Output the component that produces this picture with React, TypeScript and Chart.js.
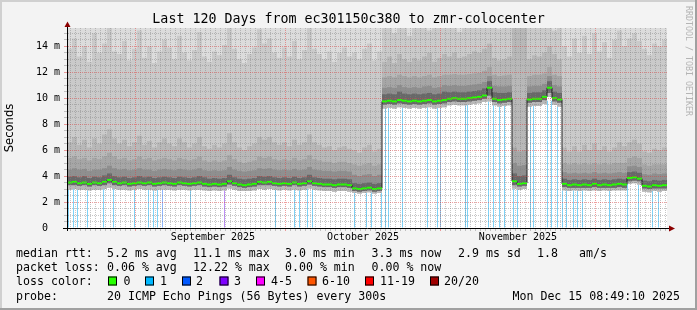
import { useEffect, useRef } from 'react';
import { Chart, registerables } from 'chart.js';

Chart.register(...registerables);

const MONO = "'DejaVu Sans Mono', monospace";
const SANS = "'DejaVu Sans', sans-serif";

const TITLE = 'Last 120 Days from ec301150c380 to zmr-colocenter';
const Y_TITLE = 'Seconds';
const WATERMARK = 'RRDTOOL / TOBI OETIKER';

// time axis in days relative to 2025-09-01 00:00, one bucket per day
const X_MIN = -14.2;
const X_MAX = 105.8;
const Y_MAX = 15.4;
const bucketStart = Array.from({ length: 120 }, (_, i) => X_MIN + i);

const monthLabels = ['September 2025', 'October 2025', 'November 2025'];
const monthLabelDays = [15, 45, 76];
const majorGridDays = [0, 30, 61, 92];
const yTickValues = [0, 0.5, 1, 1.5, 2, 2.5, 3, 3.5, 4, 4.5, 5, 5.5, 6, 6.5, 7, 7.5, 8, 8.5, 9, 9.5, 10, 10.5, 11, 11.5, 12, 12.5, 13, 13.5, 14, 14.5, 15];
const yMajorValues = [2, 4, 6, 8, 10, 12, 14];

// median rtt (ms) per day
const median = [
  3.50, 3.55, 3.45, 3.50, 3.40, 3.50, 3.45, 3.55, 3.70, 3.55,
  3.45, 3.50, 3.40, 3.45, 3.50, 3.45, 3.50, 3.40, 3.45, 3.50,
  3.45, 3.40, 3.50, 3.45, 3.40, 3.45, 3.50, 3.40, 3.35, 3.40,
  3.35, 3.40, 3.60, 3.45, 3.35, 3.30, 3.35, 3.40, 3.55, 3.50,
  3.55, 3.45, 3.40, 3.45, 3.40, 3.50, 3.40, 3.45, 3.60, 3.45,
  3.40, 3.35, 3.35, 3.30, 3.35, 3.35, 3.30,
  3.05, 3.00, 3.05, 3.10, 3.00, 3.05,
  9.75, 9.80, 9.75, 9.85, 9.80, 9.75, 9.80, 9.75, 9.80, 9.85, 9.75, 9.80, 9.85,
  9.95, 10.0, 9.95, 9.95, 10.0, 10.05, 10.1, 10.2, 10.8,
  9.95, 9.85, 9.90, 9.95,
  3.60, 3.40, 3.45,
  9.90, 9.95, 9.95, 10.10, 10.80, 10.00, 9.90,
  3.40, 3.30, 3.35, 3.30, 3.35, 3.30, 3.40, 3.30, 3.35, 3.30, 3.35, 3.40, 3.35,
  3.85, 3.90, 3.80,
  3.25, 3.20, 3.30, 3.25, 3.30,
];

// lowest pings (bottom of the light smoke)
const smokeLowOuter = [
  2.95, 3.00, 2.95, 2.95, 2.90, 2.95, 2.95, 3.00, 3.10, 3.00,
  2.95, 2.95, 2.90, 2.95, 3.00, 2.95, 2.95, 2.90, 2.95, 2.95,
  2.95, 2.90, 2.95, 2.95, 2.90, 2.95, 2.95, 2.90, 2.85, 2.90,
  2.85, 2.90, 3.05, 2.95, 2.85, 2.85, 2.85, 2.90, 3.00, 2.95,
  3.00, 2.95, 2.90, 2.95, 2.90, 2.95, 2.90, 2.95, 3.05, 2.95,
  2.90, 2.85, 2.85, 2.80, 2.85, 2.85, 2.80,
  2.70, 2.65, 2.70, 2.75, 2.65, 2.70,
  9.20, 9.25, 9.20, 9.30, 9.25, 9.20, 9.25, 9.20, 9.25, 9.30, 9.20, 9.25, 9.30,
  9.45, 9.50, 9.45, 9.45, 9.50, 9.55, 9.60, 9.70, 9.75,
  9.45, 9.35, 9.40, 9.45,
  3.05, 2.95, 3.00,
  9.35, 9.40, 9.40, 9.55, 10.1, 9.50, 9.35,
  2.90, 2.85, 2.90, 2.85, 2.90, 2.85, 2.90, 2.85, 2.90, 2.85, 2.90, 2.90, 2.90,
  3.40, 3.45, 3.35,
  2.80, 2.75, 2.85, 2.80, 2.85,
];

// bottom of the dark smoke (just under the median)
const smokeLowInner = [
  3.30, 3.30, 3.25, 3.30, 3.20, 3.30, 3.25, 3.30, 3.45, 3.30,
  3.25, 3.30, 3.20, 3.25, 3.30, 3.25, 3.30, 3.20, 3.25, 3.30,
  3.25, 3.20, 3.30, 3.25, 3.20, 3.25, 3.30, 3.20, 3.15, 3.20,
  3.15, 3.20, 3.35, 3.25, 3.15, 3.10, 3.15, 3.20, 3.30, 3.30,
  3.30, 3.25, 3.20, 3.25, 3.20, 3.30, 3.20, 3.25, 3.35, 3.25,
  3.20, 3.15, 3.15, 3.10, 3.15, 3.15, 3.10,
  2.85, 2.80, 2.85, 2.90, 2.80, 2.85,
  9.50, 9.55, 9.50, 9.60, 9.55, 9.50, 9.55, 9.50, 9.55, 9.60, 9.50, 9.55, 9.60,
  9.70, 9.75, 9.70, 9.70, 9.75, 9.80, 9.85, 9.95, 10.2,
  9.70, 9.60, 9.65, 9.70,
  3.30, 3.20, 3.25,
  9.65, 9.70, 9.70, 9.85, 10.4, 9.75, 9.65,
  3.15, 3.10, 3.10, 3.10, 3.10, 3.10, 3.15, 3.10, 3.10, 3.10, 3.10, 3.15, 3.10,
  3.60, 3.65, 3.60,
  3.05, 3.00, 3.05, 3.05, 3.05,
];

// upper smoke edges, outermost (max ping) to innermost
const smokeHigh1 = [
  16, 16, 16, 16, 16, 16, 16, 16, 16, 16,
  16, 16, 16, 16, 16, 16, 16, 16, 16, 16,
  16, 16, 16, 16, 16, 16, 16, 16, 16, 16,
  16, 16, 16, 16, 16, 16, 16, 16, 16, 16,
  16, 16, 16, 16, 16, 16, 16, 16, 16, 16,
  16, 16, 16, 16, 16, 16, 16,
  16, 16, 16, 16, 16, 16,
  16, 16, 16, 16, 16, 16, 16, 16, 16, 16, 16, 16, 16,
  16, 16, 16, 16, 16, 16, 16, 16, 16,
  16, 16, 16, 16,
  16, 16, 16,
  16, 16, 16, 16, 16, 16, 16,
  16, 16, 16, 16, 16, 16, 16, 16, 16, 16, 16, 16, 16,
  16, 16, 16,
  16, 16, 16, 16, 16,
];
const smokeHigh2 = [
  13.8, 14.6, 13.2, 14.0, 12.8, 15.0, 13.5, 14.2, 16.0, 13.6,
  13.4, 14.4, 12.9, 13.8, 15.2, 13.1, 14.0, 12.7, 13.6, 14.5,
  13.9, 13.0, 14.8, 13.5, 12.9, 13.7, 15.1, 13.2, 12.8, 13.6,
  13.3, 14.1, 16.0, 13.8, 13.0, 12.7, 13.4, 13.9, 15.3, 14.2,
  14.6, 13.5, 13.1, 13.9, 13.2, 14.4, 13.0, 13.7, 15.6, 13.8,
  13.4, 13.0, 13.6, 12.8, 13.5, 13.9, 13.2,
  13.5, 13.0, 13.8, 14.2, 12.9, 13.6,
  16, 16, 15.0, 16, 16, 14.8, 16, 16, 16, 15.2, 16, 16, 16,
  16, 16, 15.1, 16, 16, 16, 16, 16, 16,
  16, 15.3, 16, 16,
  16, 16, 16,
  16, 16, 16, 16, 16, 15.2, 16,
  14.0, 13.2, 14.6, 13.5, 14.8, 13.4, 15.0, 13.6, 14.3, 13.1, 14.5, 15.2, 14.0,
  14.6, 15.0, 14.4,
  13.8, 13.3, 14.2, 14.0, 14.5,
];
const smokeHigh3 = [
  6.6, 7.0, 6.4, 6.8, 6.2, 6.9, 6.5, 7.2, 7.6, 6.9,
  6.5, 6.8, 6.3, 6.6, 7.1, 6.4, 6.7, 6.2, 6.6, 6.9,
  6.5, 6.3, 6.9, 6.6, 6.2, 6.5, 7.0, 6.3, 6.1, 6.4,
  6.2, 6.5, 7.3, 6.6, 6.2, 6.0, 6.3, 6.5, 7.0, 6.8,
  7.0, 6.6, 6.4, 6.6, 6.3, 6.8, 6.4, 6.6, 7.2, 6.6,
  6.4, 6.2, 6.3, 6.0, 6.2, 6.3, 6.1,
  6.0, 5.8, 6.2, 6.4, 5.9, 6.1,
  12.8, 13.2, 12.7, 13.4, 13.0, 12.8, 13.1, 12.9, 13.2, 13.5, 12.8, 13.1, 13.4,
  13.2, 13.5, 13.1, 13.2, 13.4, 13.6, 13.5, 13.8, 14.2,
  13.1, 12.9, 13.0, 13.2,
  16, 16, 16,
  13.0, 13.3, 13.2, 13.5, 14.0, 13.4, 13.0,
  6.2, 5.9, 6.3, 5.9, 6.4, 6.0, 6.5, 6.0, 6.3, 5.9, 6.2, 6.6, 6.3,
  6.6, 6.8, 6.5,
  5.9, 5.8, 6.1, 6.0, 6.2,
];
const smokeHigh4 = [
  5.4, 5.5, 5.3, 5.4, 5.2, 5.4, 5.3, 5.5, 5.8, 5.5,
  5.3, 5.4, 5.2, 5.3, 5.5, 5.3, 5.4, 5.2, 5.3, 5.4,
  5.3, 5.2, 5.4, 5.3, 5.2, 5.3, 5.5, 5.2, 5.1, 5.2,
  5.1, 5.2, 5.6, 5.3, 5.1, 5.0, 5.1, 5.2, 5.5, 5.4,
  5.5, 5.3, 5.2, 5.3, 5.2, 5.4, 5.2, 5.3, 5.6, 5.3,
  5.2, 5.1, 5.1, 5.0, 5.1, 5.1, 5.0,
  4.9, 4.8, 4.9, 5.0, 4.8, 4.9,
  11.6, 11.7, 11.6, 11.8, 11.7, 11.6, 11.7, 11.6, 11.7, 11.8, 11.6, 11.7, 11.8,
  11.8, 11.85, 11.8, 11.8, 11.85, 11.9, 11.95, 12.1, 12.4,
  11.8, 11.7, 11.75, 11.8,
  6.2, 5.9, 6.0,
  11.7, 11.8, 11.8, 11.9, 12.4, 11.8, 11.7,
  5.0, 4.9, 5.0, 4.9, 5.0, 4.9, 5.0, 4.9, 5.0, 4.9, 5.0, 5.0, 5.0,
  5.4, 5.5, 5.4,
  4.9, 4.8, 4.9, 4.9, 4.9,
];
const smokeHigh5 = [
  4.50, 4.60, 4.50, 4.55, 4.40, 4.50, 4.50, 4.60, 4.80, 4.60,
  4.50, 4.55, 4.45, 4.50, 4.60, 4.50, 4.50, 4.40, 4.50, 4.55,
  4.50, 4.45, 4.55, 4.50, 4.45, 4.50, 4.60, 4.45, 4.40, 4.45,
  4.40, 4.45, 4.70, 4.50, 4.40, 4.35, 4.40, 4.45, 4.60, 4.55,
  4.60, 4.50, 4.45, 4.50, 4.45, 4.55, 4.45, 4.50, 4.70, 4.50,
  4.45, 4.40, 4.40, 4.35, 4.40, 4.40, 4.35,
  4.10, 4.00, 4.10, 4.15, 4.00, 4.10,
  10.8, 10.85, 10.8, 11.0, 10.85, 10.8, 10.85, 10.8, 10.9, 10.95, 10.8, 10.85, 11.0,
  10.95, 11.0, 10.95, 10.95, 11.0, 11.05, 11.1, 11.25, 11.7,
  10.95, 10.9, 10.9, 10.95,
  5.0, 4.8, 4.85,
  10.9, 10.95, 10.95, 11.1, 11.7, 11.0, 10.9,
  4.30, 4.20, 4.25, 4.20, 4.25, 4.20, 4.30, 4.20, 4.25, 4.20, 4.25, 4.30, 4.25,
  4.75, 4.80, 4.70,
  4.15, 4.10, 4.20, 4.15, 4.20,
];
const smokeHigh6 = [
  3.95, 4.00, 3.90, 4.00, 3.85, 3.95, 3.90, 4.05, 4.20, 4.00,
  3.90, 3.95, 3.85, 3.90, 4.00, 3.90, 3.95, 3.85, 3.90, 3.95,
  3.90, 3.85, 3.95, 3.90, 3.85, 3.90, 4.00, 3.90, 3.80, 3.85,
  3.80, 3.85, 4.10, 3.90, 3.80, 3.75, 3.80, 3.85, 4.00, 3.95,
  4.00, 3.90, 3.85, 3.90, 3.85, 3.95, 3.85, 3.90, 4.10, 3.90,
  3.85, 3.80, 3.80, 3.75, 3.80, 3.80, 3.75,
  3.45, 3.40, 3.45, 3.50, 3.40, 3.45,
  10.3, 10.35, 10.3, 10.5, 10.35, 10.3, 10.35, 10.3, 10.35, 10.4, 10.3, 10.35, 10.5,
  10.45, 10.5, 10.45, 10.45, 10.5, 10.55, 10.6, 10.75, 11.3,
  10.45, 10.4, 10.4, 10.45,
  4.2, 4.0, 4.05,
  10.4, 10.45, 10.45, 10.6, 11.3, 10.5, 10.4,
  3.80, 3.70, 3.75, 3.70, 3.75, 3.70, 3.80, 3.70, 3.75, 3.70, 3.75, 3.80, 3.75,
  4.30, 4.35, 4.25,
  3.65, 3.60, 3.70, 3.65, 3.70,
];
const smokeHighs = [smokeHigh1, smokeHigh2, smokeHigh3, smokeHigh4, smokeHigh5, smokeHigh6];
const smokeColors = ['#dcdcdc', '#cacaca', '#b8b8b8', '#a6a6a6', '#8f8f8f', '#686868'];

// packet loss events (day, loss level, bar top in ms)
const lossDays = [-13.9, -12.9, -12.1, -10.1, -6.9, -4.9, -0.7, 2.1, 3.1, 3.9, 4.9, 10.5, 17.3, 27.5, 31.3, 32.3, 33.9, 34.9, 43.3, 45.7, 46.7, 48.7, 49.5, 50.1, 52.9, 57.9, 59.9, 60.5, 65.5, 65.9, 70.1, 71.1, 72.3, 73.3, 75.1, 75.9, 78.5, 79.1, 81.9, 82.7, 83.9, 84.9, 85.7, 87.1, 87.9, 88.9, 94.3, 97.9, 100.1, 102.9, 104.1];
const lossLevels = [1, 1, 1, 1, 1, 1, 1, 1, 1, 1, 2, 1, 3, 1, 1, 1, 1, 1, 1, 1, 1, 1, 1, 1, 1, 1, 1, 1, 1, 1, 1, 1, 1, 1, 1, 1, 1, 1, 1, 1, 1, 1, 1, 1, 1, 1, 1, 1, 1, 1, 1];
const lossTops = [3.4, 3.4, 3.4, 3.4, 3.4, 3.4, 3.4, 3.4, 3.4, 3.4, 3.4, 3.4, 3.4, 3.4, 3.4, 3.4, 3.4, 3.4, 3.0, 3.0, 3.0, 3.0, 9.7, 9.7, 9.7, 9.7, 9.7, 9.7, 9.9, 9.9, 9.9, 9.9, 9.9, 9.9, 3.4, 3.4, 9.8, 9.8, 9.8, 9.8, 9.8, 3.3, 3.3, 3.3, 3.3, 3.3, 3.3, 3.8, 3.8, 3.2, 3.2];
const lossBarColors = ['#ffffff', '#7fd2f7', '#8fb6fb', '#bf8ff7'];

const lossColorLabels = ['0', '1', '2', '3', '4-5', '6-10', '11-19', '20/20'];
const lossColors = ['#26ff00', '#00b8ff', '#0059ff', '#7e00ff', '#ff00ff', '#ff5500', '#ff0000', '#a00000'];

const statRow1 = ['median rtt:', '5.2 ms avg', '11.1 ms max', '3.0 ms min', '3.3 ms now', '2.9 ms sd', '1.8', 'am/s'];
const statRow2 = ['packet loss:', '0.06 % avg', '12.22 % max', '0.00 % min', '0.00 % now'];
const lossRowLabel = 'loss color:';
const probeRow = ['probe:', '20 ICMP Echo Pings (56 Bytes) every 300s'];
const dateText = 'Mon Dec 15 08:49:10 2025';

// layout constants
const ROW1_X = [16, 107, 193, 285, 371.5, 458, 537, 579];
const ROW2_X = [16, 107, 193, 285, 371.5];
const BOX_X = [108, 145, 182, 219.5, 256, 307.5, 365, 430];
const BOX_LABEL_X = [123.5, 160, 196, 234, 271, 322, 380, 444];
const ROW_Y = [257, 271, 285, 299.5];

const BG = '#f3f3f3';
const GRID = 'rgba(128,128,128,0.45)';
const MGRID = 'rgba(224,64,64,0.5)';
const ARROW = '#8b0000';

const decorPlugin = {
  id: 'rrdDecor',
  beforeDraw(chart: any) {
    const { ctx, chartArea: a, width, height } = chart;
    ctx.save();
    ctx.fillStyle = BG;
    ctx.fillRect(0, 0, width, height);
    ctx.fillStyle = '#d0d0d0';
    ctx.fillRect(0, 0, width, 2);
    ctx.fillRect(0, 0, 2, height);
    ctx.fillStyle = '#a0a0a0';
    ctx.fillRect(0, height - 2, width, 2);
    ctx.fillRect(width - 2, 0, 2, height);
    ctx.fillStyle = '#ffffff';
    ctx.fillRect(a.left, a.top, a.right - a.left, a.bottom - a.top);
    ctx.restore();
  },
  afterDraw(chart: any) {
    const { ctx, chartArea: a } = chart;
    ctx.save();
    // axis extensions and arrows
    ctx.strokeStyle = '#000';
    ctx.lineWidth = 1;
    ctx.beginPath();
    ctx.moveTo(a.left - 4, a.bottom + 0.5);
    ctx.lineTo(a.left, a.bottom + 0.5);
    ctx.moveTo(a.right, a.bottom + 0.5);
    ctx.lineTo(a.right + 2, a.bottom + 0.5);
    ctx.moveTo(a.left + 0.5, a.top);
    ctx.lineTo(a.left + 0.5, a.top - 2);
    ctx.moveTo(a.left + 0.5, a.bottom);
    ctx.lineTo(a.left + 0.5, a.bottom + 3);
    ctx.stroke();
    ctx.fillStyle = ARROW;
    ctx.beginPath();
    ctx.moveTo(a.left + 0.5, a.top - 6.5);
    ctx.lineTo(a.left - 2.5, a.top - 1);
    ctx.lineTo(a.left + 3.5, a.top - 1);
    ctx.closePath();
    ctx.fill();
    ctx.beginPath();
    ctx.moveTo(a.right + 8, a.bottom + 0.5);
    ctx.lineTo(a.right + 2, a.bottom - 2.5);
    ctx.lineTo(a.right + 2, a.bottom + 3.5);
    ctx.closePath();
    ctx.fill();

    // legend rows
    ctx.fillStyle = '#000';
    ctx.font = `11.6px ${MONO}`;
    ctx.textBaseline = 'alphabetic';
    ctx.textAlign = 'left';
    statRow1.forEach((t, i) => ctx.fillText(t, ROW1_X[i], ROW_Y[0]));
    statRow2.forEach((t, i) => ctx.fillText(t, ROW2_X[i], ROW_Y[1]));
    ctx.fillText(lossRowLabel, 16, ROW_Y[2]);
    lossColorLabels.forEach((t, i) => {
      ctx.fillStyle = lossColors[i];
      ctx.fillRect(BOX_X[i], ROW_Y[2] - 8.5, 9, 9);
      ctx.strokeStyle = '#000';
      ctx.lineWidth = 1;
      ctx.strokeRect(BOX_X[i] + 0.5, ROW_Y[2] - 8, 8, 8);
      ctx.fillStyle = '#000';
      ctx.fillText(t, BOX_LABEL_X[i], ROW_Y[2]);
    });
    ctx.fillText(probeRow[0], 16, ROW_Y[3]);
    ctx.fillText(probeRow[1], 107, ROW_Y[3]);
    ctx.textAlign = 'right';
    ctx.fillText(dateText, 680, ROW_Y[3]);

    // watermark
    ctx.translate(688, 6);
    ctx.rotate(Math.PI / 2);
    ctx.textAlign = 'left';
    ctx.textBaseline = 'middle';
    ctx.font = `8.3px ${MONO}`;
    ctx.fillStyle = '#b4b4b4';
    ctx.fillText(WATERMARK, 0, 0);
    ctx.restore();
  },
};

const xTickValues: number[] = [];
for (let d = -14; d <= 105; d++) xTickValues.push(d);

function buildConfig(): any {
  const datasets: any[] = [];
  datasets.push({
    type: 'bar',
    data: lossDays.map((d, i) => ({ x: d, y: lossTops[i] })),
    backgroundColor: lossLevels.map((l) => lossBarColors[l]),
    barThickness: 1,
    grouped: false,
    inflateAmount: 0,
    order: 20,
    clip: 0,
  });
  smokeHighs.forEach((hi, k) => {
    const lo = k < 3 ? smokeLowOuter : smokeLowInner;
    datasets.push({
      type: 'bar',
      data: hi.map((v, i) => ({ x: bucketStart[i] + 0.5, y: [lo[i], v] })),
      backgroundColor: smokeColors[k],
      barThickness: 5,
      grouped: false,
      inflateAmount: 0,
      order: 10 - k,
      clip: 0,
    });
  });
  datasets.push({
    type: 'line',
    data: [...median.map((v, i) => ({ x: bucketStart[i], y: v })), { x: X_MAX, y: median[median.length - 1] }],
    borderColor: '#202020',
    borderWidth: 1,
    stepped: true,
    pointRadius: 0,
    fill: false,
    order: 2,
    clip: 0,
  });
  datasets.push({
    type: 'line',
    data: median.map((v, i) => ({ x: bucketStart[i] + 0.5, y: v })),
    showLine: false,
    pointStyle: 'line',
    pointRadius: 2.5,
    pointBorderWidth: 2,
    pointBorderColor: lossColors[0],
    pointBackgroundColor: lossColors[0],
    order: 1,
    clip: 0,
  });

  return {
    type: 'bar',
    data: { datasets },
    plugins: [decorPlugin],
    options: {
      responsive: false,
      devicePixelRatio: 1,
      animation: false,
      events: [],
      layout: { padding: { left: 0, right: 0, top: 0, bottom: 0 } },
      plugins: {
        legend: { display: false },
        tooltip: { enabled: false },
        title: {
          display: true,
          text: TITLE,
          color: '#000',
          font: { family: MONO, size: 13.3, weight: 'normal' },
          padding: { top: 11.3, bottom: 0.74 },
        },
      },
      scales: {
        x: {
          type: 'linear',
          min: X_MIN,
          max: X_MAX,
          bounds: 'data',
          offset: false,
          afterBuildTicks: (s: any) => {
            s.ticks = xTickValues.map((v) => ({ value: v }));
          },
          afterFit: (s: any) => {
            s.height = 82;
          },
          ticks: {
            autoSkip: false,
            maxRotation: 0,
            minRotation: 0,
            padding: 0.5,
            color: '#000',
            font: { family: MONO, size: 10 },
            callback: (v: any) => {
              const k = monthLabelDays.indexOf(Number(v));
              return k >= 0 ? monthLabels[k] : '';
            },
          },
          grid: {
            z: 1,
            lineWidth: 1,
            tickLength: 3,
            color: (c: any) => (majorGridDays.includes(c.tick?.value) ? MGRID : GRID),
            tickColor: (c: any) => (majorGridDays.includes(c.tick?.value) ? MGRID : GRID),
          },
          border: { display: true, color: '#000', width: 1, dash: [1, 1], z: 2 },
        },
        y: {
          type: 'linear',
          min: 0,
          max: Y_MAX,
          bounds: 'data',
          afterBuildTicks: (s: any) => {
            s.ticks = yTickValues.map((v) => ({ value: v }));
          },
          afterFit: (s: any) => {
            s.width = 67;
          },
          ticks: {
            autoSkip: false,
            padding: 4,
            color: '#000',
            font: { family: MONO, size: 10 },
            callback: (v: any) => {
              const n = Number(v);
              if (n === 0) return '0  ';
              return yMajorValues.includes(n) ? `${n} m` : '';
            },
          },
          grid: {
            z: 1,
            lineWidth: 1,
            tickLength: 3,
            color: (c: any) => {
              const v = c.tick?.value;
              if (v === 0) return 'rgba(0,0,0,0)';
              return yMajorValues.includes(v) ? MGRID : GRID;
            },
            tickColor: (c: any) => (yMajorValues.includes(c.tick?.value) ? MGRID : GRID),
          },
          border: { display: true, color: '#000', width: 1, dash: [1, 1], z: 2 },
          title: {
            display: true,
            text: Y_TITLE,
            color: '#000',
            font: { family: SANS, size: 11.6 },
            padding: { top: 3, bottom: 0 },
          },
        },
        yRightMargin: {
          type: 'linear',
          position: 'right',
          display: true,
          min: 0,
          max: 1,
          afterFit: (s: any) => {
            s.width = 30;
          },
          ticks: { display: false },
          grid: { display: false, drawTicks: false },
          border: { display: false },
        },
      },
    },
  };
}

export default function App() {
  const ref = useRef<HTMLCanvasElement>(null);
  useEffect(() => {
    if (!ref.current) return;
    const chart = new Chart(ref.current, buildConfig());
    return () => chart.destroy();
  }, []);
  return (
    <div style={{ position: 'fixed', left: 0, top: 0, width: 697, height: 310 }}>
      <canvas ref={ref} width={697} height={310} style={{ display: 'block', width: 697, height: 310 }} />
    </div>
  );
}
